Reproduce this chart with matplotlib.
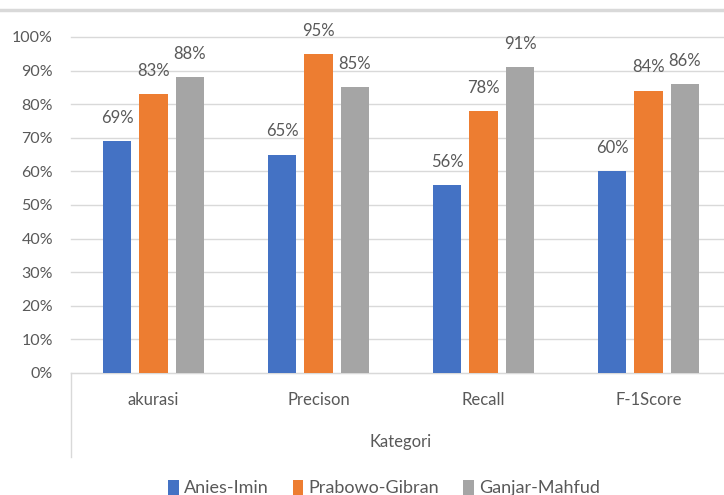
import matplotlib.pyplot as plt
import numpy as np
from matplotlib.lines import Line2D

categories = ["akurasi", "Precison", "Recall", "F-1Score"]
series = ["Anies-Imin", "Prabowo-Gibran", "Ganjar-Mahfud"]
anies = [0.69, 0.65, 0.56, 0.60]
prabowo = [0.83, 0.95, 0.78, 0.84]
ganjar = [0.88, 0.85, 0.91, 0.86]
colors = ["#4472C4", "#ED7D31", "#A5A5A5"]
text_c = "#595959"

plt.rcParams["font.family"] = ["Lato", "DejaVu Sans"]

fig = plt.figure(figsize=(7.24, 4.95), dpi=100)
W, H = 724, 495
ax = fig.add_axes([71 / W, 122 / H, 653 / W, 336 / H])

x = np.arange(len(categories))
offs = [-0.221, 0, 0.221]
for vals, off, col, name in zip([anies, prabowo, ganjar], offs, colors, series):
    bars = ax.bar(x + off, vals, width=0.172, color=col, label=name, zorder=3)
    for b, v in zip(bars, vals):
        ax.annotate(f"{round(v * 100)}%", (b.get_x() + b.get_width() / 2, v),
                    xytext=(0, 11), textcoords="offset points",
                    ha="center", va="bottom", fontsize=12, color=text_c)

ax.set_xlim(-0.5, -0.5 + 653 / 165)
ax.set_ylim(0, 1)
ax.set_yticks(np.arange(0, 1.01, 0.1))
ax.set_yticklabels([f"{int(round(t * 100))}%" for t in np.arange(0, 1.01, 0.1)])
ax.set_xticks(x)
ax.set_xticklabels(categories)
ax.tick_params(axis="both", length=0, labelsize=11.5, labelcolor=text_c)
ax.tick_params(axis="y", pad=13)
ax.tick_params(axis="x", pad=14, labelsize=12)
ax.yaxis.grid(True, color="#D9D9D9", linewidth=1, zorder=0)
ax.set_axisbelow(True)
for s in ["top", "right", "left"]:
    ax.spines[s].set_visible(False)
ax.spines["bottom"].set_color("#D9D9D9")
for gl in ax.get_ygridlines():
    gl.set_clip_on(False)

# vertical line under the category axis
fig.add_artist(Line2D([71 / W, 71 / W], [1 - 373 / H, 1 - 457 / H], color="#D9D9D9", lw=1))
# top border line
fig.add_artist(Line2D([0, 1], [1 - 10 / H, 1 - 10 / H], color="#D9D9D9", lw=2.5))

fig.text(401 / W, 1 - 442 / H, "Kategori", ha="center", va="center", fontsize=12, color=text_c)

fig.legend(loc="center", bbox_to_anchor=(384 / W, 1 - 488 / H), ncol=3, frameon=False,
           fontsize=13, labelcolor=text_c, handlelength=0.6, handleheight=0.9,
           handletextpad=0.3, columnspacing=1.3)

fig.savefig("out.png", dpi=100)
